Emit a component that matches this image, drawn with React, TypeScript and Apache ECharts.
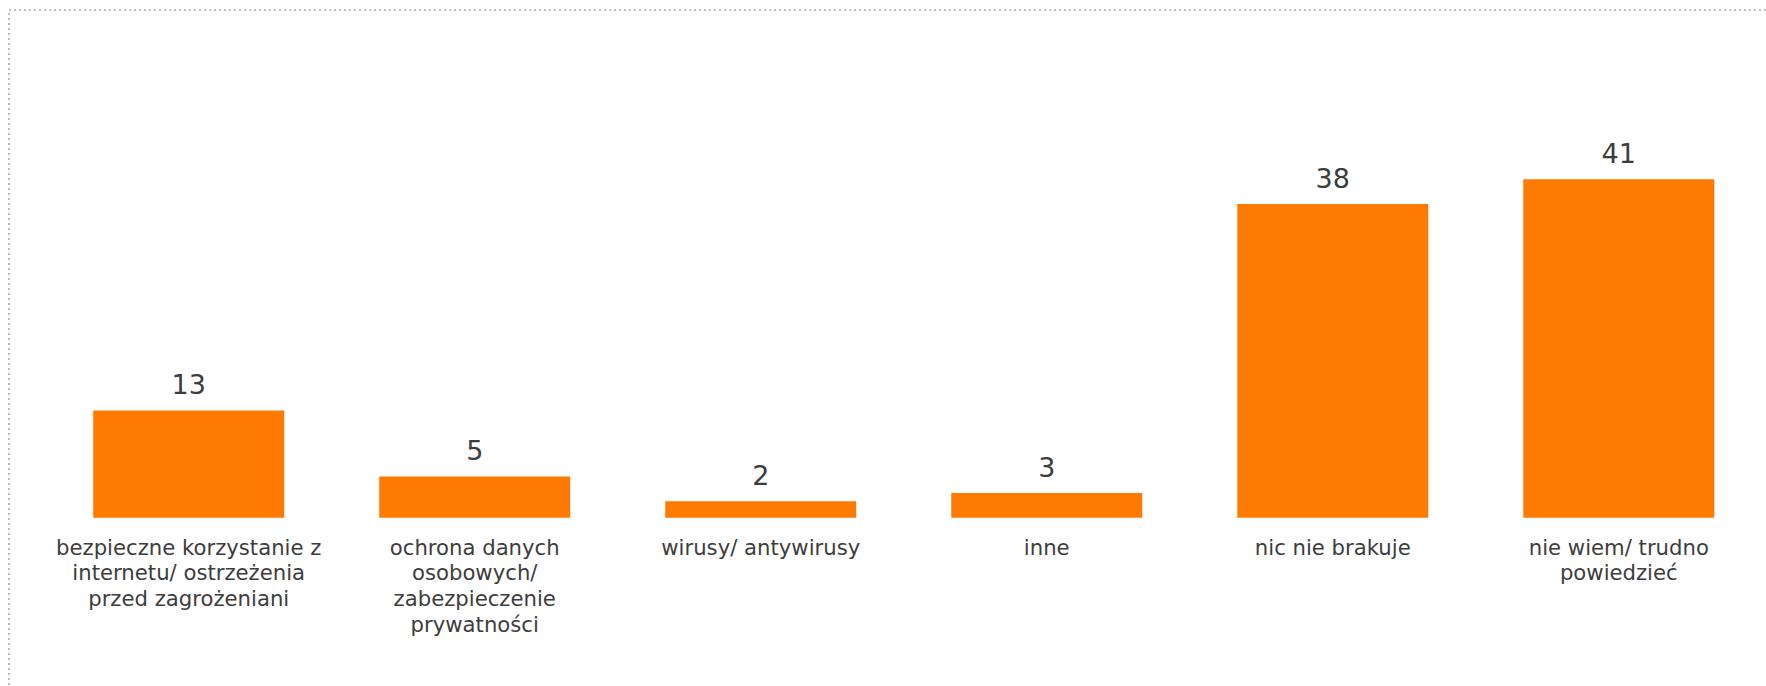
import React, { useEffect, useRef } from "react";
import * as echarts from "echarts";

const categories: string[] = [
  "bezpieczne korzystanie z\ninternetu/ ostrzeżenia\nprzed zagrożeniani",
  "ochrona danych\nosobowych/\nzabezpieczenie\nprywatności",
  "wirusy/ antywirusy",
  "inne",
  "nic nie brakuje",
  "nie wiem/ trudno\npowiedzieć",
];
const values: number[] = [13, 5, 2, 3, 38, 41];

const BAR_COLOR = "#FF7A00";
const TEXT_COLOR = "#3d3d3d";
const FONT = "'DejaVu Sans', Verdana, sans-serif";

export default function App() {
  const ref = useRef<HTMLDivElement>(null);
  useEffect(() => {
    if (!ref.current) return;
    const chart = echarts.init(ref.current, undefined, { renderer: "svg" });
    chart.setOption({
      animation: false,
      backgroundColor: "#ffffff",
      textStyle: { fontFamily: FONT },
      graphic: [
        {
          type: "rect",
          shape: { x: 9, y: 10, width: 2000, height: 1000 },
          style: { fill: "none", stroke: "#bdbdbd", lineWidth: 2, lineDash: [2, 3] },
          silent: true,
        },
      ],
      grid: { left: 45.7, right: 4.2, top: 105, bottom: 168.3, containLabel: false },
      xAxis: {
        type: "category",
        data: categories,
        axisLine: { show: false },
        axisTick: { show: false },
        axisLabel: {
          interval: 0,
          margin: 16.5,
          fontSize: 21.2,
          lineHeight: 25.7,
          color: TEXT_COLOR,
          fontFamily: FONT,
          align: "center",
        },
      },
      yAxis: {
        type: "value",
        min: 0,
        max: 50,
        show: false,
        splitLine: { show: false },
      },
      series: [
        {
          type: "bar",
          data: values,
          barWidth: 191,
          itemStyle: { color: BAR_COLOR },
          label: {
            show: true,
            position: "top",
            distance: 12,
            fontSize: 27,
            color: TEXT_COLOR,
            fontFamily: FONT,
          },
        },
      ],
    });
    return () => chart.dispose();
  }, []);
  return (
    <div
      ref={ref}
      style={{ position: "fixed", left: 0, top: 0, width: 1766, height: 686 }}
    />
  );
}
